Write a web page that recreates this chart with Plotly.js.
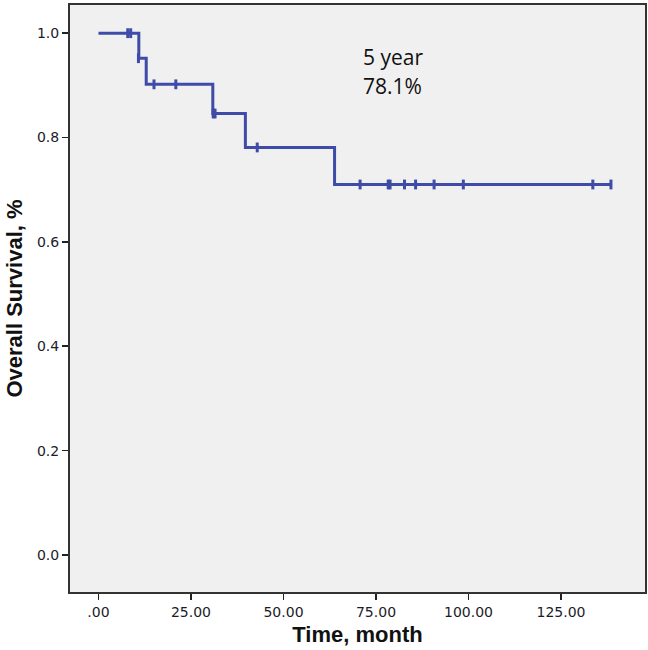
<!DOCTYPE html>
<html>
<head>
<meta charset="utf-8">
<script src="https://cdn.plot.ly/plotly-3.0.1.min.js"></script>
<style>html,body{margin:0;padding:0;background:#fff;}#chart{width:648px;height:650px;}</style>
</head>
<body>
<div id="chart"></div>
<script>
// Kaplan-Meier step points (time in months, survival proportion)
var stepTimes = [0, 10.9, 12.9, 30.9, 39.7, 63.8, 138.5];
var stepSurvival = [1.0, 0.952, 0.902, 0.846, 0.781, 0.710, 0.710];
// Censored observations
var censorTimes = [7.9, 8.7, 10.8, 15.0, 20.9, 31.0, 31.5, 42.9, 70.7, 78.3, 78.8, 82.7, 85.7, 90.7, 98.6, 133.6, 138.5];
var censorSurvival = [1.0, 1.0, 0.952, 0.902, 0.902, 0.846, 0.846, 0.781, 0.710, 0.710, 0.710, 0.710, 0.710, 0.710, 0.710, 0.710, 0.710];
var xTickVals = [0, 25, 50, 75, 100, 125];
var xTickText = ['.00', '25.00', '50.00', '75.00', '100.00', '125.00'];
var yTickVals = [0, 0.2, 0.4, 0.6, 0.8, 1.0];
var yTickText = ['0.0', '0.2', '0.4', '0.6', '0.8', '1.0'];
var noteLines = ['5 year', '78.1%'];
var noteY = [0.955, 0.899];

var lineColor = 'rgb(62,76,168)';
var traces = [
  {x: stepTimes, y: stepSurvival, mode: 'lines', line: {shape: 'hv', color: lineColor, width: 3}, hoverinfo: 'skip'},
  {x: censorTimes, y: censorSurvival, mode: 'markers', marker: {symbol: 'line-ns', size: 7, line: {color: lineColor, width: 3}}, hoverinfo: 'skip'}
];
var annotations = noteLines.map(function (t, i) {
  return {x: 71.0, y: noteY[i], xref: 'x', yref: 'y', text: t, showarrow: false,
    xanchor: 'left', yanchor: 'middle', align: 'left',
    font: {size: 21, family: 'Open Sans', color: '#111'}};
});
var layout = {
  width: 648, height: 650,
  margin: {l: 70, r: 3, t: 5, b: 58},
  paper_bgcolor: '#ffffff',
  plot_bgcolor: '#f0f0f0',
  showlegend: false,
  font: {family: 'DejaVu Sans', color: '#222'},
  xaxis: {
    range: [-7.7, 147.7], tickvals: xTickVals, ticktext: xTickText,
    ticks: 'outside', ticklen: 6, tickwidth: 1.5, tickcolor: '#222',
    showline: true, mirror: true, linecolor: '#333', linewidth: 2,
    showgrid: false, zeroline: false, automargin: false,
    tickfont: {size: 14, family: 'DejaVu Sans', color: '#1c1c28'},
    title: {text: 'Time, month', font: {size: 22, family: 'Liberation Sans', weight: 'bold', color: '#111'}, standoff: 8}
  },
  yaxis: {
    range: [-0.071, 1.054], tickvals: yTickVals, ticktext: yTickText,
    ticks: 'outside', ticklen: 6, tickwidth: 1.5, tickcolor: '#222',
    showline: true, mirror: true, linecolor: '#333', linewidth: 2,
    showgrid: false, zeroline: false, automargin: false,
    tickfont: {size: 14, family: 'DejaVu Sans', color: '#1c1c28'},
    title: {text: 'Overall Survival, %', font: {size: 22, family: 'Liberation Sans', weight: 'bold', color: '#111'}, standoff: 8}
  },
  annotations: annotations
};
Plotly.newPlot('chart', traces, layout, {staticPlot: true});
</script>
</body>
</html>
